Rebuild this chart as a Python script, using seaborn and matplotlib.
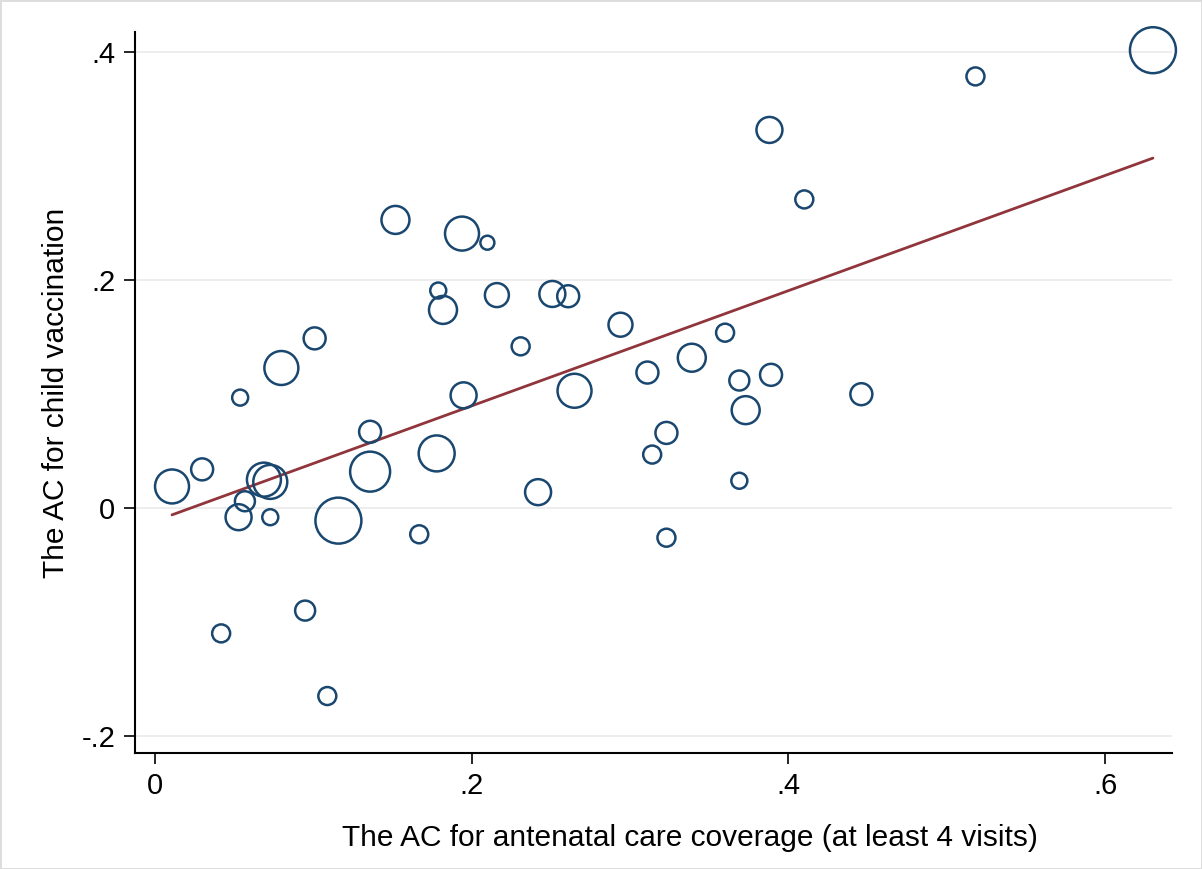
import matplotlib
matplotlib.use('Agg')
import matplotlib.pyplot as plt
import numpy as np
import pandas as pd
import seaborn as sns

# AC values; weight drives the circle size
anc = [0.011, 0.030, 0.054, 0.057, 0.053, 0.069, 0.073, 0.073, 0.080, 0.042,
       0.095, 0.101, 0.109, 0.116, 0.136, 0.136, 0.152, 0.167, 0.178, 0.179,
       0.182, 0.194, 0.210, 0.195, 0.216, 0.231, 0.242, 0.251, 0.261, 0.265,
       0.294, 0.311, 0.314, 0.323, 0.323, 0.339, 0.360, 0.369, 0.369, 0.373,
       0.389, 0.388, 0.410, 0.446, 0.518, 0.630]
vacc = [0.019, 0.034, 0.097, 0.006, -0.008, 0.025, 0.023, -0.008, 0.123, -0.110,
        -0.090, 0.149, -0.165, -0.011, 0.067, 0.032, 0.253, -0.023, 0.048, 0.191,
        0.174, 0.241, 0.233, 0.099, 0.187, 0.142, 0.014, 0.188, 0.186, 0.103,
        0.161, 0.119, 0.047, 0.066, -0.026, 0.132, 0.154, 0.112, 0.024, 0.086,
        0.117, 0.332, 0.271, 0.100, 0.379, 0.402]
weight = [289, 121, 64, 100, 169, 289, 289, 64, 289, 81,
          100, 121, 81, 529, 121, 400, 196, 81, 324, 64,
          196, 289, 49, 169, 144, 81, 169, 169, 121, 289,
          144, 121, 81, 121, 81, 196, 81, 100, 64, 196,
          121, 169, 81, 121, 81, 529]

# fitted line
fit_intercept = -0.0115
fit_slope = 0.506

yticks = [-0.2, 0, 0.2, 0.4]
ytick_labels = ['-.2', '0', '.2', '.4']
xticks = [0, 0.2, 0.4, 0.6]
xtick_labels = ['0', '.2', '.4', '.6']

df = pd.DataFrame({'anc': anc, 'vacc': vacc, 'w': weight})

sns.set_style('white')
plt.rcParams['font.family'] = ['Liberation Sans', 'DejaVu Sans']
plt.rcParams['text.color'] = 'black'
plt.rcParams['axes.labelcolor'] = 'black'
plt.rcParams['xtick.color'] = 'black'
plt.rcParams['ytick.color'] = 'black'

fig = plt.figure(figsize=(12.02, 8.69), dpi=100)
ax = fig.add_axes([0.112, 0.1335, 0.863, 0.8297])

# marker area in pt^2 from pixel radius^2 (r px -> 1.44 r pt diameter)
wmax = max(weight)
sns.scatterplot(data=df, x='anc', y='vacc', size='w', sizes=(0, 2.07 * wmax),
                size_norm=(0, wmax), facecolors='none', edgecolor='#1a476f',
                linewidth=1.8, legend=False, ax=ax, zorder=3, clip_on=False)

xs = np.array([df['anc'].min(), df['anc'].max()])
sns.lineplot(x=xs, y=fit_intercept + fit_slope * xs, color='#90353b',
             linewidth=2, ax=ax, zorder=2)

ax.set_xlim(-0.0126, 0.642)
ax.set_ylim(-0.215, 0.418)
ax.set_xticks(xticks)
ax.set_xticklabels(xtick_labels)
ax.set_yticks(yticks)
ax.set_yticklabels(ytick_labels)
ax.yaxis.grid(True, color='#eaeaea', linewidth=1.2)
ax.xaxis.grid(False)
ax.tick_params(axis='both', direction='out', length=8, width=1.2, labelsize=21,
               left=True, bottom=True, pad=6)
for s in ['top', 'right']:
    ax.spines[s].set_visible(False)
for s in ['left', 'bottom']:
    ax.spines[s].set_color('black')
    ax.spines[s].set_linewidth(1.5)

ax.set_xlabel('The AC for antenatal care coverage (at least 4 visits)', fontsize=21.5)
ax.xaxis.set_label_coords(0.535, -0.098)
ax.set_ylabel('The AC for child vaccination', fontsize=21.5)
ax.yaxis.set_label_coords(-0.062, 0.5)

fig.patch.set_edgecolor('#dddddd')
fig.patch.set_linewidth(1)
fig.savefig('out.png', dpi=100, edgecolor=fig.get_edgecolor())
